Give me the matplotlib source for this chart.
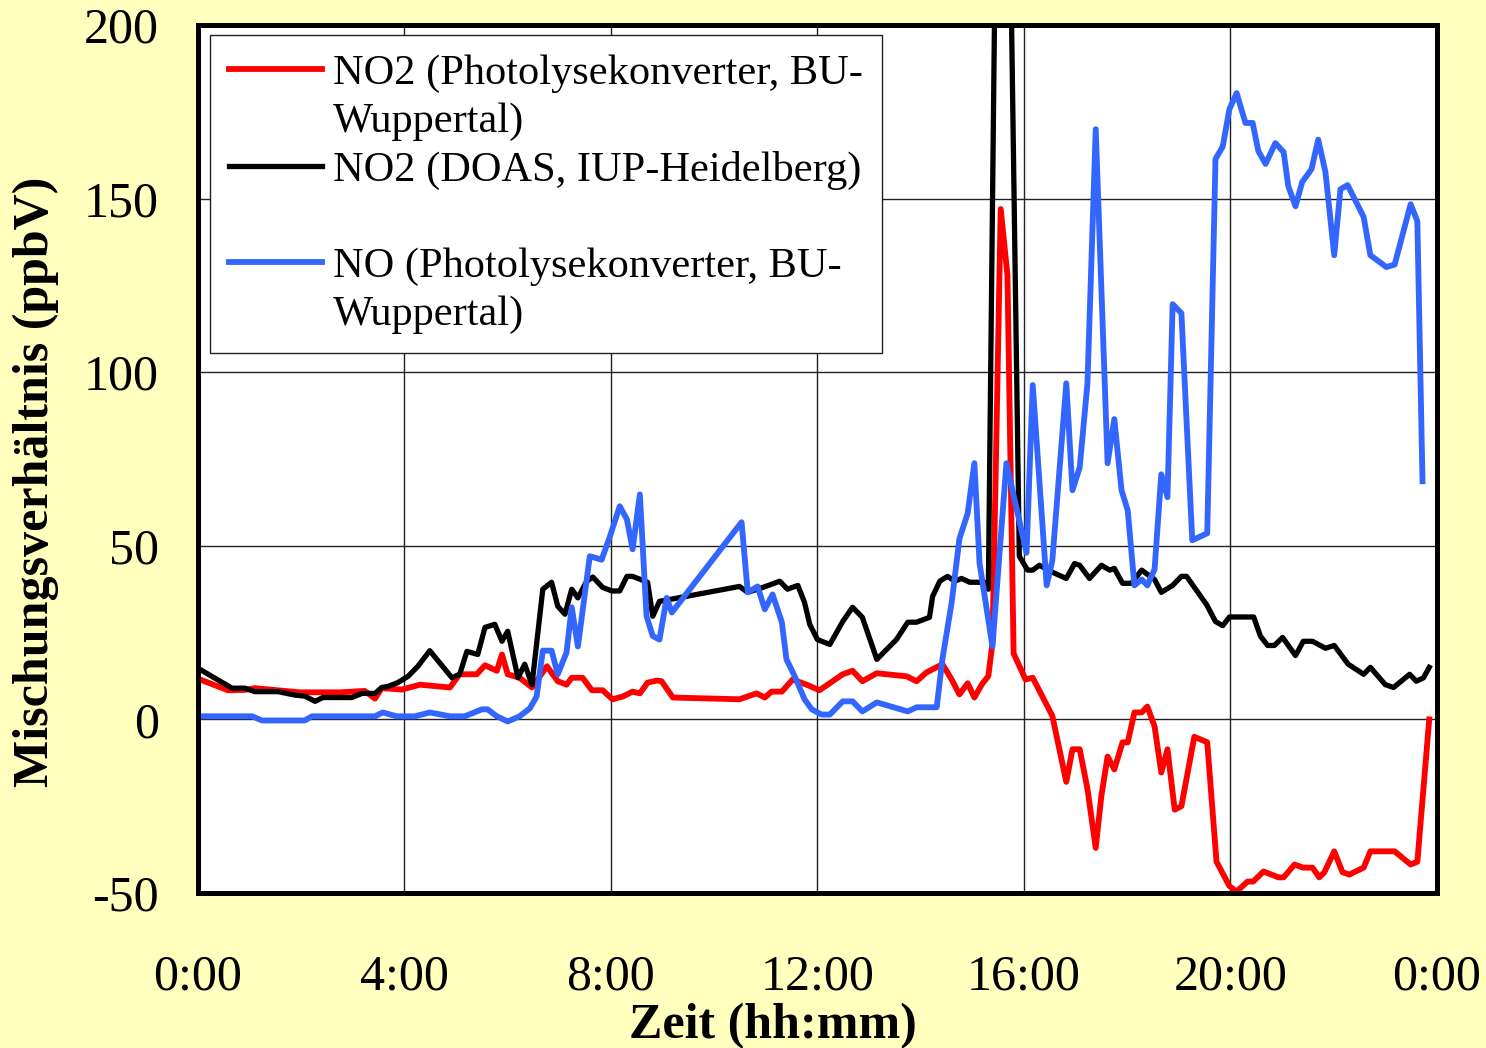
import matplotlib
matplotlib.use("Agg")
import matplotlib.pyplot as plt
from matplotlib.lines import Line2D

# time in hours, mixing ratio in ppbV
no2_phot_t = [0.04, 0.58, 0.91, 1.10, 1.39, 1.97, 2.75, 3.23, 3.43, 3.56, 3.95, 4.30, 4.88,
              5.07, 5.40, 5.56, 5.79, 5.89, 6.00, 6.23, 6.47, 6.76, 6.97, 7.14, 7.24, 7.45,
              7.63, 7.84, 8.03, 8.23, 8.42, 8.56, 8.71, 8.89, 8.98, 9.20, 10.49, 10.82, 10.98,
              11.11, 11.31, 11.52, 11.79, 12.04, 12.49, 12.68, 12.87, 13.15, 13.73, 13.92,
              14.11, 14.42, 14.60, 14.75, 14.91, 15.04, 15.18, 15.31, 15.39, 15.55, 15.68,
              15.80, 16.03, 16.17, 16.55, 16.82, 16.94, 17.08, 17.23, 17.39, 17.50, 17.62,
              17.75, 17.91, 18.01, 18.14, 18.28, 18.39, 18.53, 18.66, 18.78, 18.92, 19.05,
              19.30, 19.55, 19.73, 19.98, 20.12, 20.33, 20.44, 20.64, 20.93, 21.03, 21.24,
              21.41, 21.59, 21.72, 21.82, 22.01, 22.17, 22.30, 22.58, 22.71, 23.18, 23.49,
              23.62, 23.85]
no2_phot = [11.5, 8.4, 8.5, 9.0, 8.6, 7.8, 7.8, 8.2, 6.0, 9.0, 8.6, 10.0, 9.2,
            13.0, 13.0, 15.6, 14.0, 18.7, 13.0, 12.0, 9.2, 15.3, 11.0, 10.0, 12.0, 12.0,
            8.4, 8.4, 5.8, 6.6, 8.0, 7.5, 10.6, 11.2, 11.0, 6.3, 5.8, 7.5, 6.3,
            8.0, 8.0, 11.5, 10.0, 8.4, 13.0, 14.0, 11.0, 13.3, 12.4, 11.0,
            13.5, 15.9, 11.5, 7.2, 10.4, 6.3, 10.0, 12.5, 22.0, 147.0, 128.0,
            19.0, 11.5, 12.0, 1.0, -18.0, -8.6, -8.6, -20.0, -37.0, -22.0, -10.7,
            -14.4, -6.6, -6.6, 2.0, 2.0, 3.7, -2.0, -15.3, -8.6, -26.0, -25.0,
            -5.0, -6.6, -41.0, -48.0, -49.6, -46.7, -46.7, -43.8, -45.5, -45.5, -41.8,
            -42.7, -42.7, -45.5, -44.0, -38.0, -44.0, -44.7, -42.7, -38.0, -38.0, -41.8,
            -41.0, 0.0]

no2_doas_t = [0.04, 0.66, 0.91, 1.10, 1.55, 1.88, 2.07, 2.27, 2.42, 2.98, 3.18, 3.43, 3.56,
              3.68, 3.87, 4.07, 4.26, 4.49, 4.92, 5.07, 5.21, 5.42, 5.56, 5.75, 5.89, 6.00,
              6.20, 6.33, 6.47, 6.68, 6.85, 6.97, 7.11, 7.24, 7.36, 7.53, 7.65, 7.84, 8.02,
              8.17, 8.31, 8.42, 8.71, 8.81, 8.94, 10.49, 10.65, 10.94, 11.27, 11.42, 11.62,
              11.75, 11.85, 12.00, 12.24, 12.49, 12.68, 12.87, 13.15, 13.53, 13.75, 13.92,
              14.17, 14.23, 14.37, 14.52, 14.66, 14.79, 14.95, 15.24, 15.31, 15.57, 15.91,
              16.07, 16.17, 16.30, 16.55, 16.82, 16.98, 17.08, 17.27, 17.50, 17.66, 17.75,
              17.91, 18.08, 18.28, 18.39, 18.53, 18.66, 18.88, 19.05, 19.15, 19.54, 19.71,
              19.85, 19.98, 20.45, 20.58, 20.72, 20.85, 21.01, 21.26, 21.41, 21.59, 21.84,
              22.01, 22.28, 22.58, 22.71, 23.00, 23.16, 23.47, 23.60, 23.74, 23.85]
no2_doas = [14.4, 9.0, 9.0, 8.0, 8.0, 7.0, 6.7, 5.2, 6.3, 6.3, 7.5, 7.5, 9.2,
            9.5, 10.6, 12.4, 15.3, 19.8, 12.0, 13.0, 19.6, 18.7, 26.5, 27.4, 22.5, 25.4,
            12.0, 15.9, 10.0, 37.5, 39.5, 32.6, 30.3, 37.5, 35.0, 39.8, 41.0, 38.0, 37.0,
            37.0, 41.2, 41.2, 39.5, 29.7, 34.0, 38.3, 36.6, 38.0, 39.8, 37.5, 38.6,
            33.7, 27.4, 23.0, 21.6, 28.2, 32.3, 29.4, 17.3, 23.0, 28.0, 28.0,
            29.4, 35.4, 39.8, 41.2, 39.8, 40.6, 39.5, 39.5, 37.5, 395.0, 47.0,
            43.0, 43.0, 44.4, 42.4, 40.6, 44.9, 44.4, 40.6, 44.4, 43.0, 43.5,
            39.2, 39.2, 43.0, 41.8, 40.3, 36.6, 38.6, 41.2, 41.2, 33.0, 28.2,
            27.0, 29.5, 29.5, 24.0, 21.3, 21.3, 23.6, 18.4, 22.5, 22.5, 20.5,
            21.3, 15.9, 13.0, 15.0, 10.0, 9.2, 13.0, 11.0, 12.0, 15.0]

no_t = [0.04, 1.05, 1.24, 2.07, 2.21, 3.43, 3.58, 3.85, 4.20, 4.49, 4.88, 5.17, 5.50,
        5.61, 5.79, 6.00, 6.23, 6.43, 6.56, 6.68, 6.85, 6.97, 7.14, 7.24, 7.36, 7.59,
        7.82, 7.98, 8.17, 8.31, 8.42, 8.56, 8.69, 8.81, 8.94, 9.08, 9.18, 10.53, 10.65,
        10.84, 10.98, 11.13, 11.31, 11.40, 11.56, 11.75, 11.89, 12.08, 12.24, 12.49,
        12.68, 12.87, 13.15, 13.75, 13.92, 14.31, 14.42, 14.60, 14.75, 14.91, 15.04,
        15.14, 15.39, 15.66, 16.05, 16.17, 16.44, 16.55, 16.82, 16.94, 17.08, 17.23,
        17.39, 17.62, 17.75, 17.89, 18.01, 18.14, 18.28, 18.39, 18.53, 18.66, 18.78,
        18.88, 19.05, 19.26, 19.55, 19.71, 19.85, 19.98, 20.12, 20.29, 20.43, 20.54,
        20.68, 20.87, 21.03, 21.12, 21.26, 21.39, 21.57, 21.70, 21.84, 22.01, 22.13,
        22.27, 22.58, 22.71, 23.02, 23.18, 23.49, 23.62, 23.72]
no = [0.9, 0.9, -0.3, -0.3, 0.9, 0.9, 2.0, 0.9, 0.9, 2.0, 0.9, 0.9, 2.9,
      2.9, 0.9, -0.6, 0.9, 3.2, 6.6, 19.8, 19.8, 13.0, 19.3, 32.3, 21.0, 47.0,
      46.0, 52.7, 61.4, 57.6, 49.0, 64.8, 29.7, 24.0, 23.0, 35.0, 30.8, 56.8, 36.6,
      38.3, 31.7, 36.0, 28.0, 17.3, 12.4, 5.8, 2.9, 1.4, 1.4, 5.2,
      5.2, 2.3, 4.9, 2.3, 3.5, 3.5, 17.3, 33.7, 52.0, 59.4, 73.8,
      45.0, 21.0, 73.8, 48.0, 96.3, 38.6, 45.8, 96.8, 66.0, 72.6, 96.8,
      170.0, 73.8, 86.5, 66.0, 60.2, 38.6, 40.3, 38.6, 43.2, 70.6, 64.0,
      119.6, 117.0, 51.6, 53.6, 161.4, 165.0, 175.8, 180.4, 171.8, 171.8, 163.7,
      160.0, 166.0, 163.4, 153.6, 147.8, 154.8, 158.5, 167.0, 157.6, 133.7, 152.7,
      153.9, 144.7, 133.7, 130.3, 131.0, 148.4, 143.5, 68.6]

x_ticks = [0, 4, 8, 12, 16, 20, 24]
x_labels = ["0:00", "4:00", "8:00", "12:00", "16:00", "20:00", "0:00"]
y_ticks = [-50, 0, 50, 100, 150, 200]

plt.rcParams['font.family'] = ['Liberation Serif', 'DejaVu Serif']
plt.rcParams['axes.unicode_minus'] = False

fig = plt.figure(figsize=(14.86, 10.48), dpi=100, facecolor='#FFFFBE')
ax = fig.add_axes([0.1332, 0.1479, 0.8338, 0.8282])
ax.set_facecolor('white')

l1, = ax.plot(no2_phot_t, no2_phot, color='#FF0000', lw=4.2, solid_joinstyle='round')
l2, = ax.plot(no2_doas_t, no2_doas, color='black', lw=3.8, solid_joinstyle='round')
l3, = ax.plot(no_t, no, color='#3366FF', lw=4.2, solid_joinstyle='round')

ax.set_xlim(0, 24)
ax.set_ylim(-50, 200)
ax.set_xticks(x_ticks)
ax.set_xticklabels(x_labels)
ax.set_yticks(y_ticks)
ax.grid(True, color='#222222', lw=1.0)
ax.set_axisbelow(True)
ax.tick_params(axis='both', length=0, labelsize=36)
ax.tick_params(axis='x', pad=44)
ax.tick_params(axis='y', pad=28)
for s in ax.spines.values():
    s.set_linewidth(3.6)
    s.set_zorder(5)

ax.set_ylabel('Mischungsverhältnis (ppbV)', fontsize=36, fontweight='bold')
ax.yaxis.set_label_coords(-0.112, 0.4735)
ax.set_xlabel('Zeit (hh:mm)', fontsize=36, fontweight='bold')
ax.xaxis.set_label_coords(0.464, -0.127)

blank = Line2D([], [], color='none')
leg = ax.legend([l1, blank, l2, blank, l3, blank],
                ['NO2 (Photolysekonverter, BU-', 'Wuppertal)', 'NO2 (DOAS, IUP-Heidelberg)',
                 ' ', 'NO (Photolysekonverter, BU-', 'Wuppertal)'],
                loc='upper left', bbox_to_anchor=(0.0097, 0.988), borderaxespad=0,
                fontsize=30.5, frameon=True, fancybox=False, framealpha=1,
                edgecolor='#222222', handlelength=2.2, handletextpad=0.25,
                labelspacing=0.22, borderpad=0.45)
leg.get_frame().set_linewidth(1.0)
leg.set_zorder(6)

fig.savefig('out.png', dpi=100, facecolor=fig.get_facecolor())
